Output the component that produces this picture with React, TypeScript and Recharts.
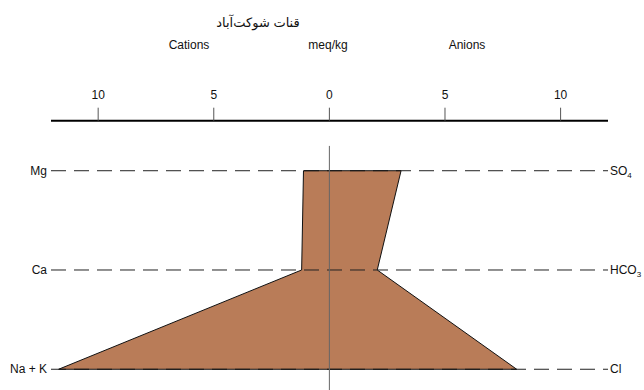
import React from 'react';
import { ComposedChart, Area, XAxis, YAxis, ReferenceLine } from 'recharts';

const rows = [0, 1, 2];
const cations = ['Mg', 'Ca', 'Na + K'];
const anionBase = ['SO', 'HCO', 'Cl'];
const anionSub = ['4', '3', ''];
const cationValues = [1.12, 1.2, 11.71];
const anionValues = [3.1, 2.07, 8.1];
const xTicks = [-10, -5, 0, 5, 10];

const title = 'قنات شوکت‌آباد';
const headers = [
  { text: 'Cations', x: 189 },
  { text: 'meq/kg', x: 328 },
  { text: 'Anions', x: 467 },
];

const data = rows.map((r) => ({ row: r, range: [-cationValues[r], anionValues[r]] }));

const FONT = '"Liberation Sans", Arial, "DejaVu Sans", sans-serif';

const LeftTick = (props: any) => {
  const { x, y, payload } = props;
  return (
    <text x={x} y={y} dy={4} textAnchor="end" fontSize={12} fill="#111" fontFamily={FONT}>
      {cations[payload.value]}
    </text>
  );
};

const RightTick = (props: any) => {
  const { x, y, payload } = props;
  const i = payload.value;
  return (
    <text x={x} y={y} dy={4} textAnchor="start" fontSize={12} fill="#111" fontFamily={FONT}>
      <tspan>{anionBase[i]}</tspan>
      {anionSub[i] ? (
        <tspan dy={3} fontSize={8}>
          {anionSub[i]}
        </tspan>
      ) : null}
    </text>
  );
};

export default function App() {
  return (
    <div style={{ position: 'absolute', left: 0, top: 0, width: 644, height: 390, background: '#fff', fontFamily: FONT }}>
      <ComposedChart
        width={644}
        height={390}
        data={data}
        layout="vertical"
        margin={{ top: 0, right: 0, bottom: 0, left: 0 }}
      >
        <XAxis
          type="number"
          orientation="top"
          domain={[-12.04, 12.05]}
          allowDataOverflow
          ticks={xTicks}
          tickFormatter={(v: number) => String(Math.abs(v))}
          height={120.7}
          tickSize={13}
          tickMargin={9}
          tickLine={{ stroke: '#555' }}
          axisLine={{ stroke: '#000', strokeWidth: 2 }}
          tick={{ fill: '#111', fontSize: 12, fontFamily: FONT }}
          interval={0}
        />
        <YAxis
          yAxisId="l"
          type="number"
          dataKey="row"
          domain={[-0.504, 2.209]}
          allowDataOverflow
          ticks={rows}
          width={51}
          axisLine={false}
          tickLine={false}
          tickSize={0}
          tickMargin={4}
          tick={<LeftTick />}
          interval={0}
        />
        <YAxis
          yAxisId="r"
          orientation="right"
          type="number"
          dataKey="row"
          domain={[-0.504, 2.209]}
          allowDataOverflow
          ticks={rows}
          width={36}
          axisLine={false}
          tickLine={false}
          tickSize={0}
          tickMargin={2}
          tick={<RightTick />}
          interval={0}
        />
        <Area
          yAxisId="l"
          dataKey="range"
          type="linear"
          fill="#b97c58"
          fillOpacity={1}
          stroke="#111"
          strokeWidth={1}
          isAnimationActive={false}
          dot={false}
          activeDot={false}
        />
        {rows.map((r) => (
          <ReferenceLine
            key={'d' + r}
            yAxisId="l"
            y={r}
            stroke="#222"
            strokeDasharray="15 8"
            strokeWidth={1}
          />
        ))}
        <ReferenceLine
          yAxisId="l"
          segment={[
            { x: -cationValues[0], y: 0 },
            { x: anionValues[0], y: 0 },
          ]}
          stroke="#111"
        />
        <ReferenceLine
          yAxisId="l"
          segment={[
            { x: -cationValues[2], y: 2 },
            { x: anionValues[2], y: 2 },
          ]}
          stroke="#111"
        />
        <ReferenceLine
          yAxisId="l"
          segment={[
            { x: 0, y: -0.25 },
            { x: 0, y: 2.209 },
          ]}
          stroke="#666"
          strokeWidth={1}
        />
      </ComposedChart>
      <div
        style={{
          position: 'absolute',
          left: 258,
          top: 22,
          transform: 'translate(-50%, -50%)',
          fontSize: 13,
          whiteSpace: 'nowrap',
          direction: 'rtl',
          color: '#111',
        }}
      >
        {title}
      </div>
      {headers.map((h) => (
        <div
          key={h.text}
          style={{
            position: 'absolute',
            left: h.x,
            top: 45,
            transform: 'translate(-50%, -50%)',
            fontSize: 12,
            whiteSpace: 'nowrap',
            color: '#111',
          }}
        >
          {h.text}
        </div>
      ))}
    </div>
  );
}
